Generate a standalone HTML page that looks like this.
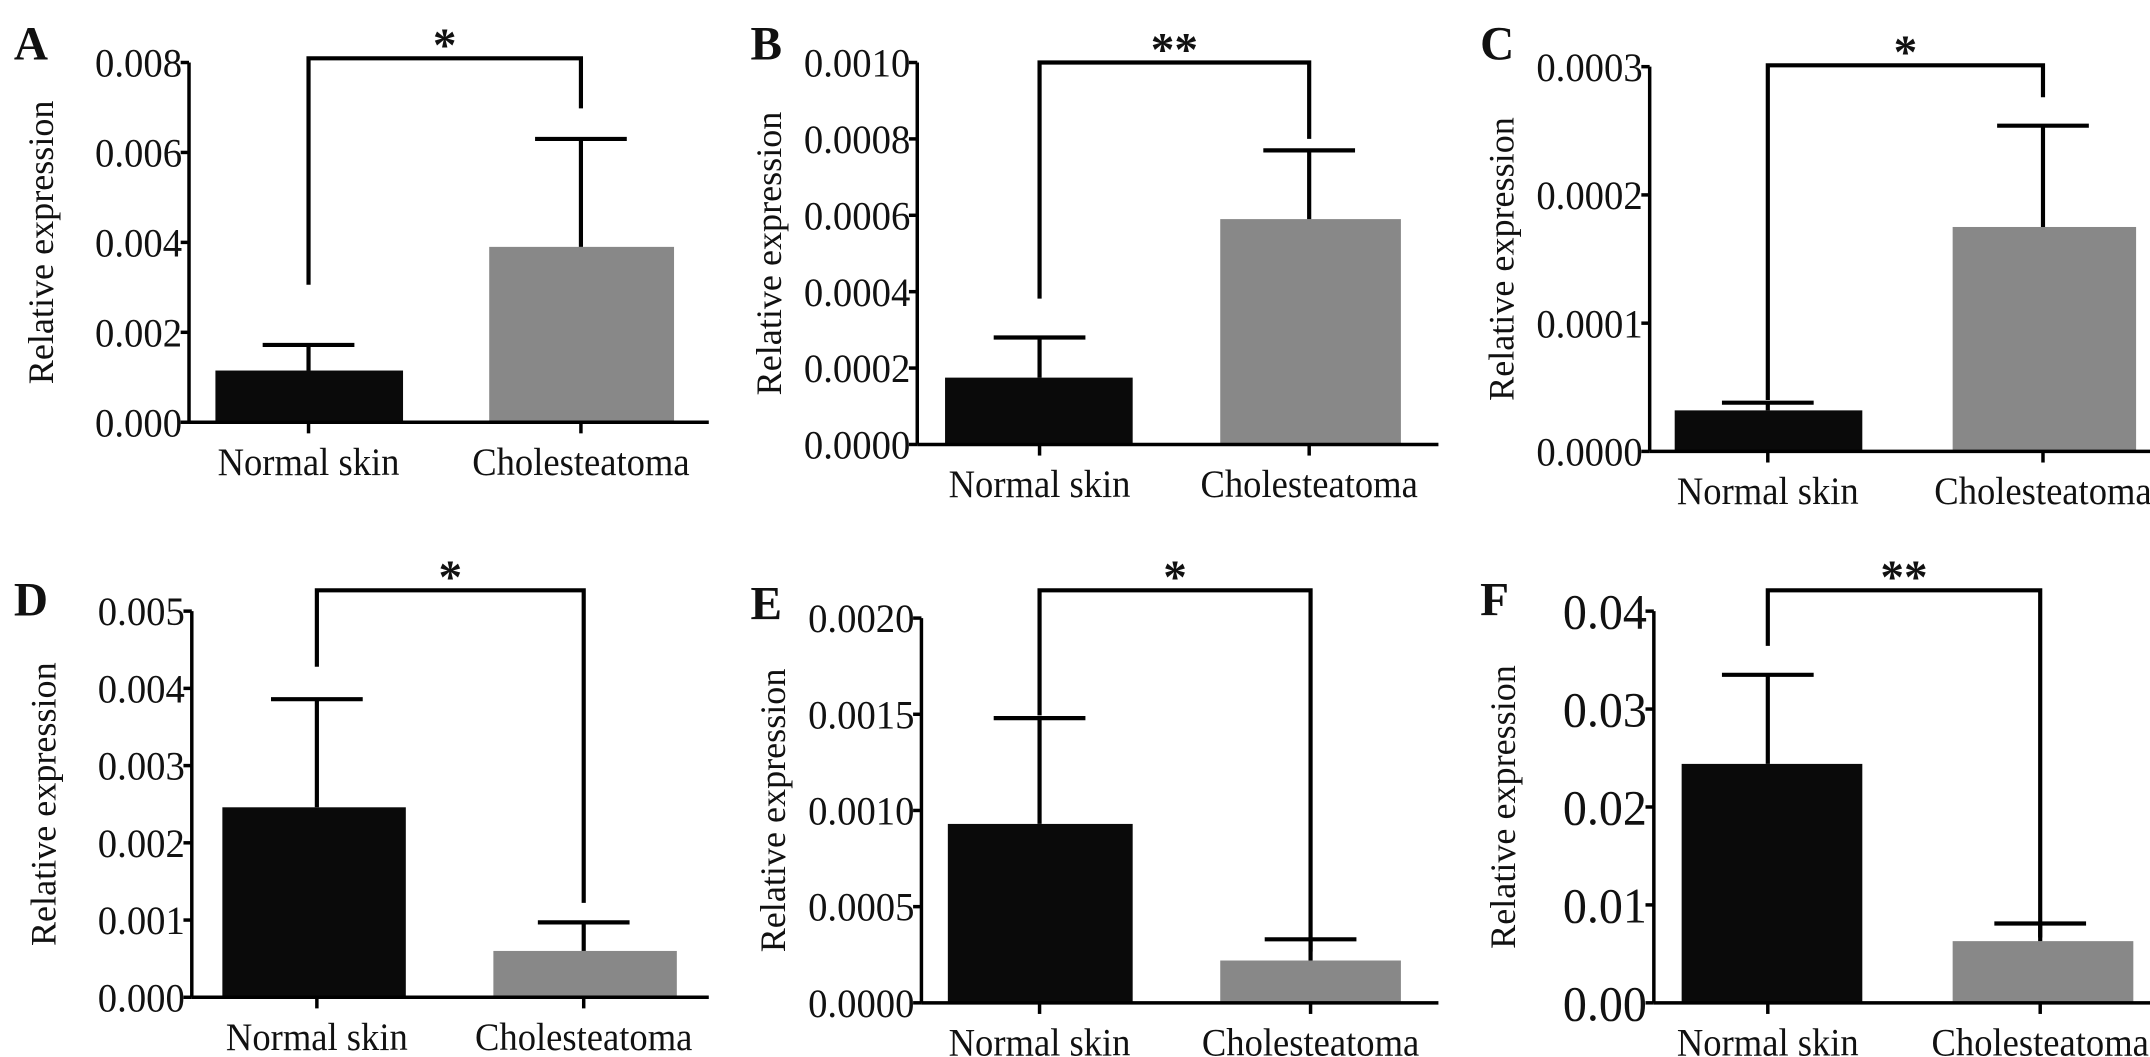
<!DOCTYPE html>
<html><head><meta charset="utf-8"><style>
html,body{margin:0;padding:0;background:#fff;}
svg{display:block;}
text{font-family:"Liberation Serif",serif;fill:#111;}
</style></head><body>
<svg id="fig" width="2150" height="1057" viewBox="0 0 1547 761" preserveAspectRatio="none" xmlns="http://www.w3.org/2000/svg">
<rect x="0" y="0" width="1547" height="761" fill="#fff"/>
</svg>
<script>
const categories = ["Normal skin", "Cholesteatoma"];
const panelLetters = ["A","B","C","D","E","F"];
const normalMeans = [0.00115, 0.000175, 0.000032, 0.00246, 0.00093, 0.0244];
const normalErrs  = [0.00172, 0.00028, 0.000038, 0.00386, 0.00148, 0.0335];
const cholMeans   = [0.0039, 0.00059, 0.000175, 0.0006, 0.00022, 0.0063];
const cholErrs    = [0.0063, 0.00077, 0.000254, 0.00097, 0.00033, 0.0081];
const yMax = [0.008, 0.0010, 0.0003, 0.005, 0.0020, 0.04];
const tickA = ["0.000","0.002","0.004","0.006","0.008"];
const tickB = ["0.0000","0.0002","0.0004","0.0006","0.0008","0.0010"];
const tickC = ["0.0000","0.0001","0.0002","0.0003"];
const tickD = ["0.000","0.001","0.002","0.003","0.004","0.005"];
const tickE = ["0.0000","0.0005","0.0010","0.0015","0.0020"];
const tickF = ["0.00","0.01","0.02","0.03","0.04"];
const significance = ["*","**","*","*","*","**"];

// layout (not data)
const layouts = [
 {ax:136, top:45, bot:304, xr:510, b1:[155,290], b2:[352,485], c:[222,418], br:42, l1:205, l2:78, lx:10, ly:15, fs:29},
 {ax:660, top:45, bot:320, xr:1035, b1:[680,815], b2:[878,1008], c:[748,942], br:45, l1:215, l2:100, lx:540, ly:15, fs:29},
 {ax:1187, top:48, bot:325, xr:1560, b1:[1205,1340], b2:[1405,1537], c:[1272,1470], br:47, l1:288, l2:70, lx:1065, ly:15, fs:29},
 {ax:138, top:440, bot:718, xr:510, b1:[160,292], b2:[355,487], c:[228,420], br:425, l1:480, l2:650, lx:10, ly:415, fs:29},
 {ax:663, top:445, bot:722, xr:1035, b1:[682,815], b2:[878,1008], c:[748,943], br:425, l1:515, l2:685, lx:540, ly:418, fs:29},
 {ax:1190, top:440, bot:722, xr:1560, b1:[1210,1340], b2:[1405,1535], c:[1272,1468], br:425, l1:465, l2:675, lx:1065, ly:415, fs:36}
];
const tickSets = [tickA, tickB, tickC, tickD, tickE, tickF];
const svg = document.getElementById('fig');
const NS = "http://www.w3.org/2000/svg";
function mk(tag, attrs, parent){const e=document.createElementNS(NS,tag);for(const k in attrs)e.setAttribute(k,attrs[k]);parent.appendChild(e);return e;}

layouts.forEach((L, i) => {
  const g = mk('g', {}, svg);
  
  
  const y = v => L.bot - v / yMax[i] * (L.bot - L.top);
  const pl = mk('text', {x:L.lx, y:L.ly+28, 'font-size':34, 'font-weight':'bold'}, g);
  pl.textContent = panelLetters[i];
  
  
  const means = [normalMeans[i], cholMeans[i]];
  const errs = [normalErrs[i], cholErrs[i]];
  const bx = [L.b1, L.b2];
  const fills = ['#0a0a0a', '#888888'];
  for (let k = 0; k < 2; k++) {
    const r = mk('rect', {x:bx[k][0], y:y(means[k]), width:bx[k][1]-bx[k][0], height:L.bot - y(means[k]), fill:fills[k]}, g);
    
    
    const eg = mk('g', {stroke:'#000', 'stroke-width':3}, g);
    
    
    mk('line', {x1:L.c[k], x2:L.c[k], y1:y(means[k]), y2:y(errs[k])}, eg);
    mk('line', {x1:L.c[k]-33, x2:L.c[k]+33, y1:y(errs[k]), y2:y(errs[k])}, eg);
    mk('line', {x1:L.c[k], x2:L.c[k], y1:L.bot, y2:L.bot+8, stroke:'#000', 'stroke-width':2.5}, g);
    const t = mk('text', {x:L.c[k], y:L.bot+38, 'font-size':28, 'text-anchor':'middle', transform:`translate(${L.c[k]*0.06},0) scale(0.94,1)`}, g);
    t.textContent = categories[k];
    
    
  }
  const axes = mk('g', {stroke:'#000', 'stroke-width':2.5}, g);
  
  
  mk('line', {x1:L.ax, x2:L.ax, y1:L.top, y2:L.bot}, axes);
  mk('line', {x1:L.ax, x2:L.xr, y1:L.bot, y2:L.bot}, axes);
  const ticks = tickSets[i];
  ticks.forEach((lab, j) => {
    const v = yMax[i] * j / (ticks.length - 1);
    mk('line', {x1:L.ax-6, x2:L.ax, y1:y(v), y2:y(v)}, axes);
    const tx = L.ax-5;
    const t = mk('text', {x:tx, y:y(v)+L.fs*0.35, 'font-size':L.fs, 'text-anchor':'end', fill:'#333', transform:`translate(${tx*0.04},0) scale(0.96,1)`}, g);
    t.textContent = lab;
    
    
  });
  const yt = mk('text', {x:0, y:0, 'font-size':26, 'text-anchor':'middle', transform:`translate(${L.ax-(L.fs===36?100:98)},${(L.top+L.bot)/2}) rotate(-90)`}, g);
  yt.textContent = 'Relative expression';
  
  
  const br = mk('polyline', {points:`${L.c[0]},${L.l1} ${L.c[0]},${L.br} ${L.c[1]},${L.br} ${L.c[1]},${L.l2}`, fill:'none', stroke:'#000', 'stroke-width':3}, g);
  
  
  const st = mk('text', {x:(L.c[0]+L.c[1])/2, y:L.br+2, 'font-size':34, 'font-weight':'bold', 'text-anchor':'middle', 'font-family':'Liberation Sans, sans-serif'}, g);
  st.textContent = significance[i];
  
  
});
</script>
</body></html>
